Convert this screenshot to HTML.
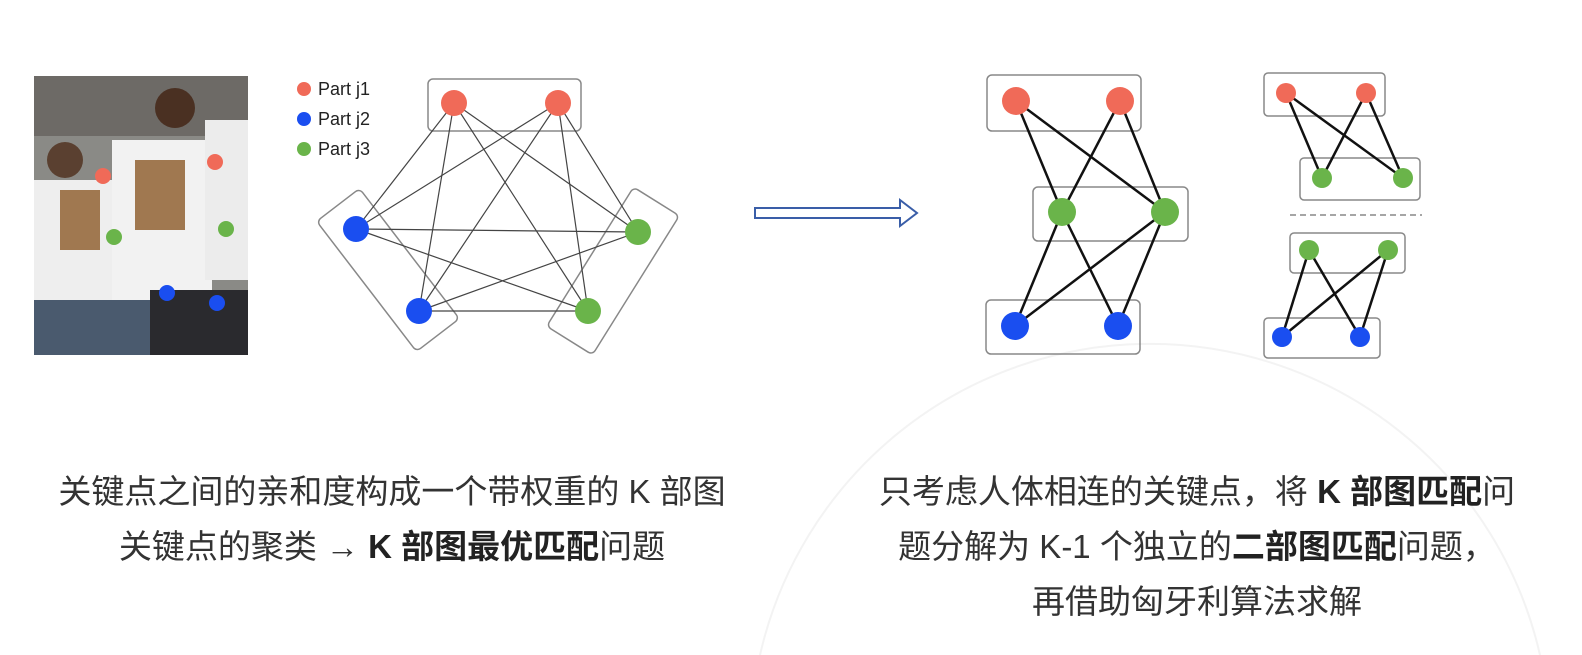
<!DOCTYPE html>
<html><head><meta charset="utf-8"><style>
html,body{margin:0;width:1582px;height:655px;overflow:hidden}
body{background:#fff;position:relative;font-family:"Liberation Sans","Noto Sans CJK SC",sans-serif}
.t{position:absolute;font-size:33px;line-height:40px;color:#333;white-space:nowrap;text-align:center}
b{color:#222}
</style></head><body>
<svg width="1582" height="655" style="position:absolute;left:0;top:0;overflow:hidden">
<path d="M760 655 A400 400 0 0 1 1540 655" fill="none" stroke="#f3f3f3" stroke-width="2"/>
<rect x="34" y="76" width="214" height="279" fill="#8a8a86"/>
<rect x="34" y="76" width="214" height="60" fill="#6d6a66"/>
<rect x="34" y="180" width="80" height="130" fill="#eeeeee"/>
<rect x="112" y="140" width="100" height="170" fill="#f2f2f2"/>
<rect x="205" y="120" width="43" height="160" fill="#ececec"/>
<rect x="34" y="300" width="120" height="55" fill="#4a5a6e"/>
<rect x="150" y="290" width="98" height="65" fill="#2a2a2e"/>
<rect x="60" y="190" width="40" height="60" fill="#a07850"/>
<rect x="135" y="160" width="50" height="70" fill="#a07850"/>
<circle cx="65" cy="160" r="18" fill="#5a4030"/>
<circle cx="175" cy="108" r="20" fill="#4a3022"/>
<circle cx="103" cy="176" r="8" fill="#f06a58"/><circle cx="215" cy="162" r="8" fill="#f06a58"/>
<circle cx="114" cy="237" r="8" fill="#6ab44a"/><circle cx="226" cy="229" r="8" fill="#6ab44a"/>
<circle cx="167" cy="293" r="8" fill="#1a4ef0"/><circle cx="217" cy="303" r="8" fill="#1a4ef0"/>
<circle cx="304" cy="89" r="7" fill="#f06a58"/><circle cx="304" cy="119" r="7" fill="#1a4ef0"/><circle cx="304" cy="149" r="7" fill="#6ab44a"/>
<g font-family="Liberation Sans,sans-serif" font-size="18" fill="#222">
<text x="318" y="95">Part j1</text><text x="318" y="125">Part j2</text><text x="318" y="155">Part j3</text></g>
<g fill="none" stroke="#888" stroke-width="1.5">
<rect x="428" y="79" width="153" height="52" rx="5"/>
<rect x="-82" y="-27" width="164" height="54" rx="5" transform="translate(388,270) rotate(52.5)"/>
<rect x="-82" y="-27" width="164" height="54" rx="5" transform="translate(613,271) rotate(122)"/>
</g>
<g stroke="#444" stroke-width="1.2">
<line x1="454" y1="103" x2="356" y2="229"/><line x1="454" y1="103" x2="419" y2="311"/><line x1="454" y1="103" x2="638" y2="232"/><line x1="454" y1="103" x2="588" y2="311"/>
<line x1="558" y1="103" x2="356" y2="229"/><line x1="558" y1="103" x2="419" y2="311"/><line x1="558" y1="103" x2="638" y2="232"/><line x1="558" y1="103" x2="588" y2="311"/>
<line x1="356" y1="229" x2="638" y2="232"/><line x1="356" y1="229" x2="588" y2="311"/>
<line x1="419" y1="311" x2="638" y2="232"/><line x1="419" y1="311" x2="588" y2="311"/>
</g>
<circle cx="454" cy="103" r="13" fill="#f06a58"/><circle cx="558" cy="103" r="13" fill="#f06a58"/>
<circle cx="356" cy="229" r="13" fill="#1a4ef0"/><circle cx="419" cy="311" r="13" fill="#1a4ef0"/>
<circle cx="638" cy="232" r="13" fill="#6ab44a"/><circle cx="588" cy="311" r="13" fill="#6ab44a"/>
<path d="M755 208 H900 V200 L917 213 L900 226 V218 H755 Z" fill="#fff" stroke="#3a5ea8" stroke-width="2"/>
<g fill="none" stroke="#888" stroke-width="1.5">
<rect x="987" y="75" width="154" height="56" rx="5"/>
<rect x="1033" y="187" width="155" height="54" rx="5"/>
<rect x="986" y="300" width="154" height="54" rx="5"/>
<rect x="1264" y="73" width="121" height="43" rx="4"/>
<rect x="1300" y="158" width="120" height="42" rx="4"/>
<rect x="1290" y="233" width="115" height="40" rx="4"/>
<rect x="1264" y="318" width="116" height="40" rx="4"/>
</g>
<line x1="1290" y1="215" x2="1422" y2="215" stroke="#888" stroke-width="1.5" stroke-dasharray="6,4"/>
<g stroke="#111" stroke-width="2.5">
<line x1="1016" y1="101" x2="1062" y2="212"/><line x1="1016" y1="101" x2="1165" y2="212"/>
<line x1="1120" y1="101" x2="1062" y2="212"/><line x1="1120" y1="101" x2="1165" y2="212"/>
<line x1="1062" y1="212" x2="1015" y2="326"/><line x1="1062" y1="212" x2="1118" y2="326"/>
<line x1="1165" y1="212" x2="1015" y2="326"/><line x1="1165" y1="212" x2="1118" y2="326"/>
<line x1="1286" y1="93" x2="1322" y2="178"/><line x1="1286" y1="93" x2="1403" y2="178"/>
<line x1="1366" y1="93" x2="1322" y2="178"/><line x1="1366" y1="93" x2="1403" y2="178"/>
<line x1="1309" y1="250" x2="1282" y2="337"/><line x1="1309" y1="250" x2="1360" y2="337"/>
<line x1="1388" y1="250" x2="1282" y2="337"/><line x1="1388" y1="250" x2="1360" y2="337"/>
</g>
<circle cx="1016" cy="101" r="14" fill="#f06a58"/><circle cx="1120" cy="101" r="14" fill="#f06a58"/>
<circle cx="1062" cy="212" r="14" fill="#6ab44a"/><circle cx="1165" cy="212" r="14" fill="#6ab44a"/>
<circle cx="1015" cy="326" r="14" fill="#1a4ef0"/><circle cx="1118" cy="326" r="14" fill="#1a4ef0"/>
<circle cx="1286" cy="93" r="10" fill="#f06a58"/><circle cx="1366" cy="93" r="10" fill="#f06a58"/>
<circle cx="1322" cy="178" r="10" fill="#6ab44a"/><circle cx="1403" cy="178" r="10" fill="#6ab44a"/>
<circle cx="1309" cy="250" r="10" fill="#6ab44a"/><circle cx="1388" cy="250" r="10" fill="#6ab44a"/>
<circle cx="1282" cy="337" r="10" fill="#1a4ef0"/><circle cx="1360" cy="337" r="10" fill="#1a4ef0"/>
</svg>
<div class="t" style="left:42px;top:472px;width:700px">关键点之间的亲和度构成一个带权重的 K 部图</div>
<div class="t" style="left:42px;top:527px;width:700px">关键点的聚类 → <b>K 部图最优匹配</b>问题</div>
<div class="t" style="left:847px;top:472px;width:700px">只考虑人体相连的关键点，将 <b>K 部图匹配</b>问</div>
<div class="t" style="left:847px;top:527px;width:700px">题分解为 K-1 个独立的<b>二部图匹配</b>问题，</div>
<div class="t" style="left:847px;top:582px;width:700px">再借助匈牙利算法求解</div>
</body></html>
